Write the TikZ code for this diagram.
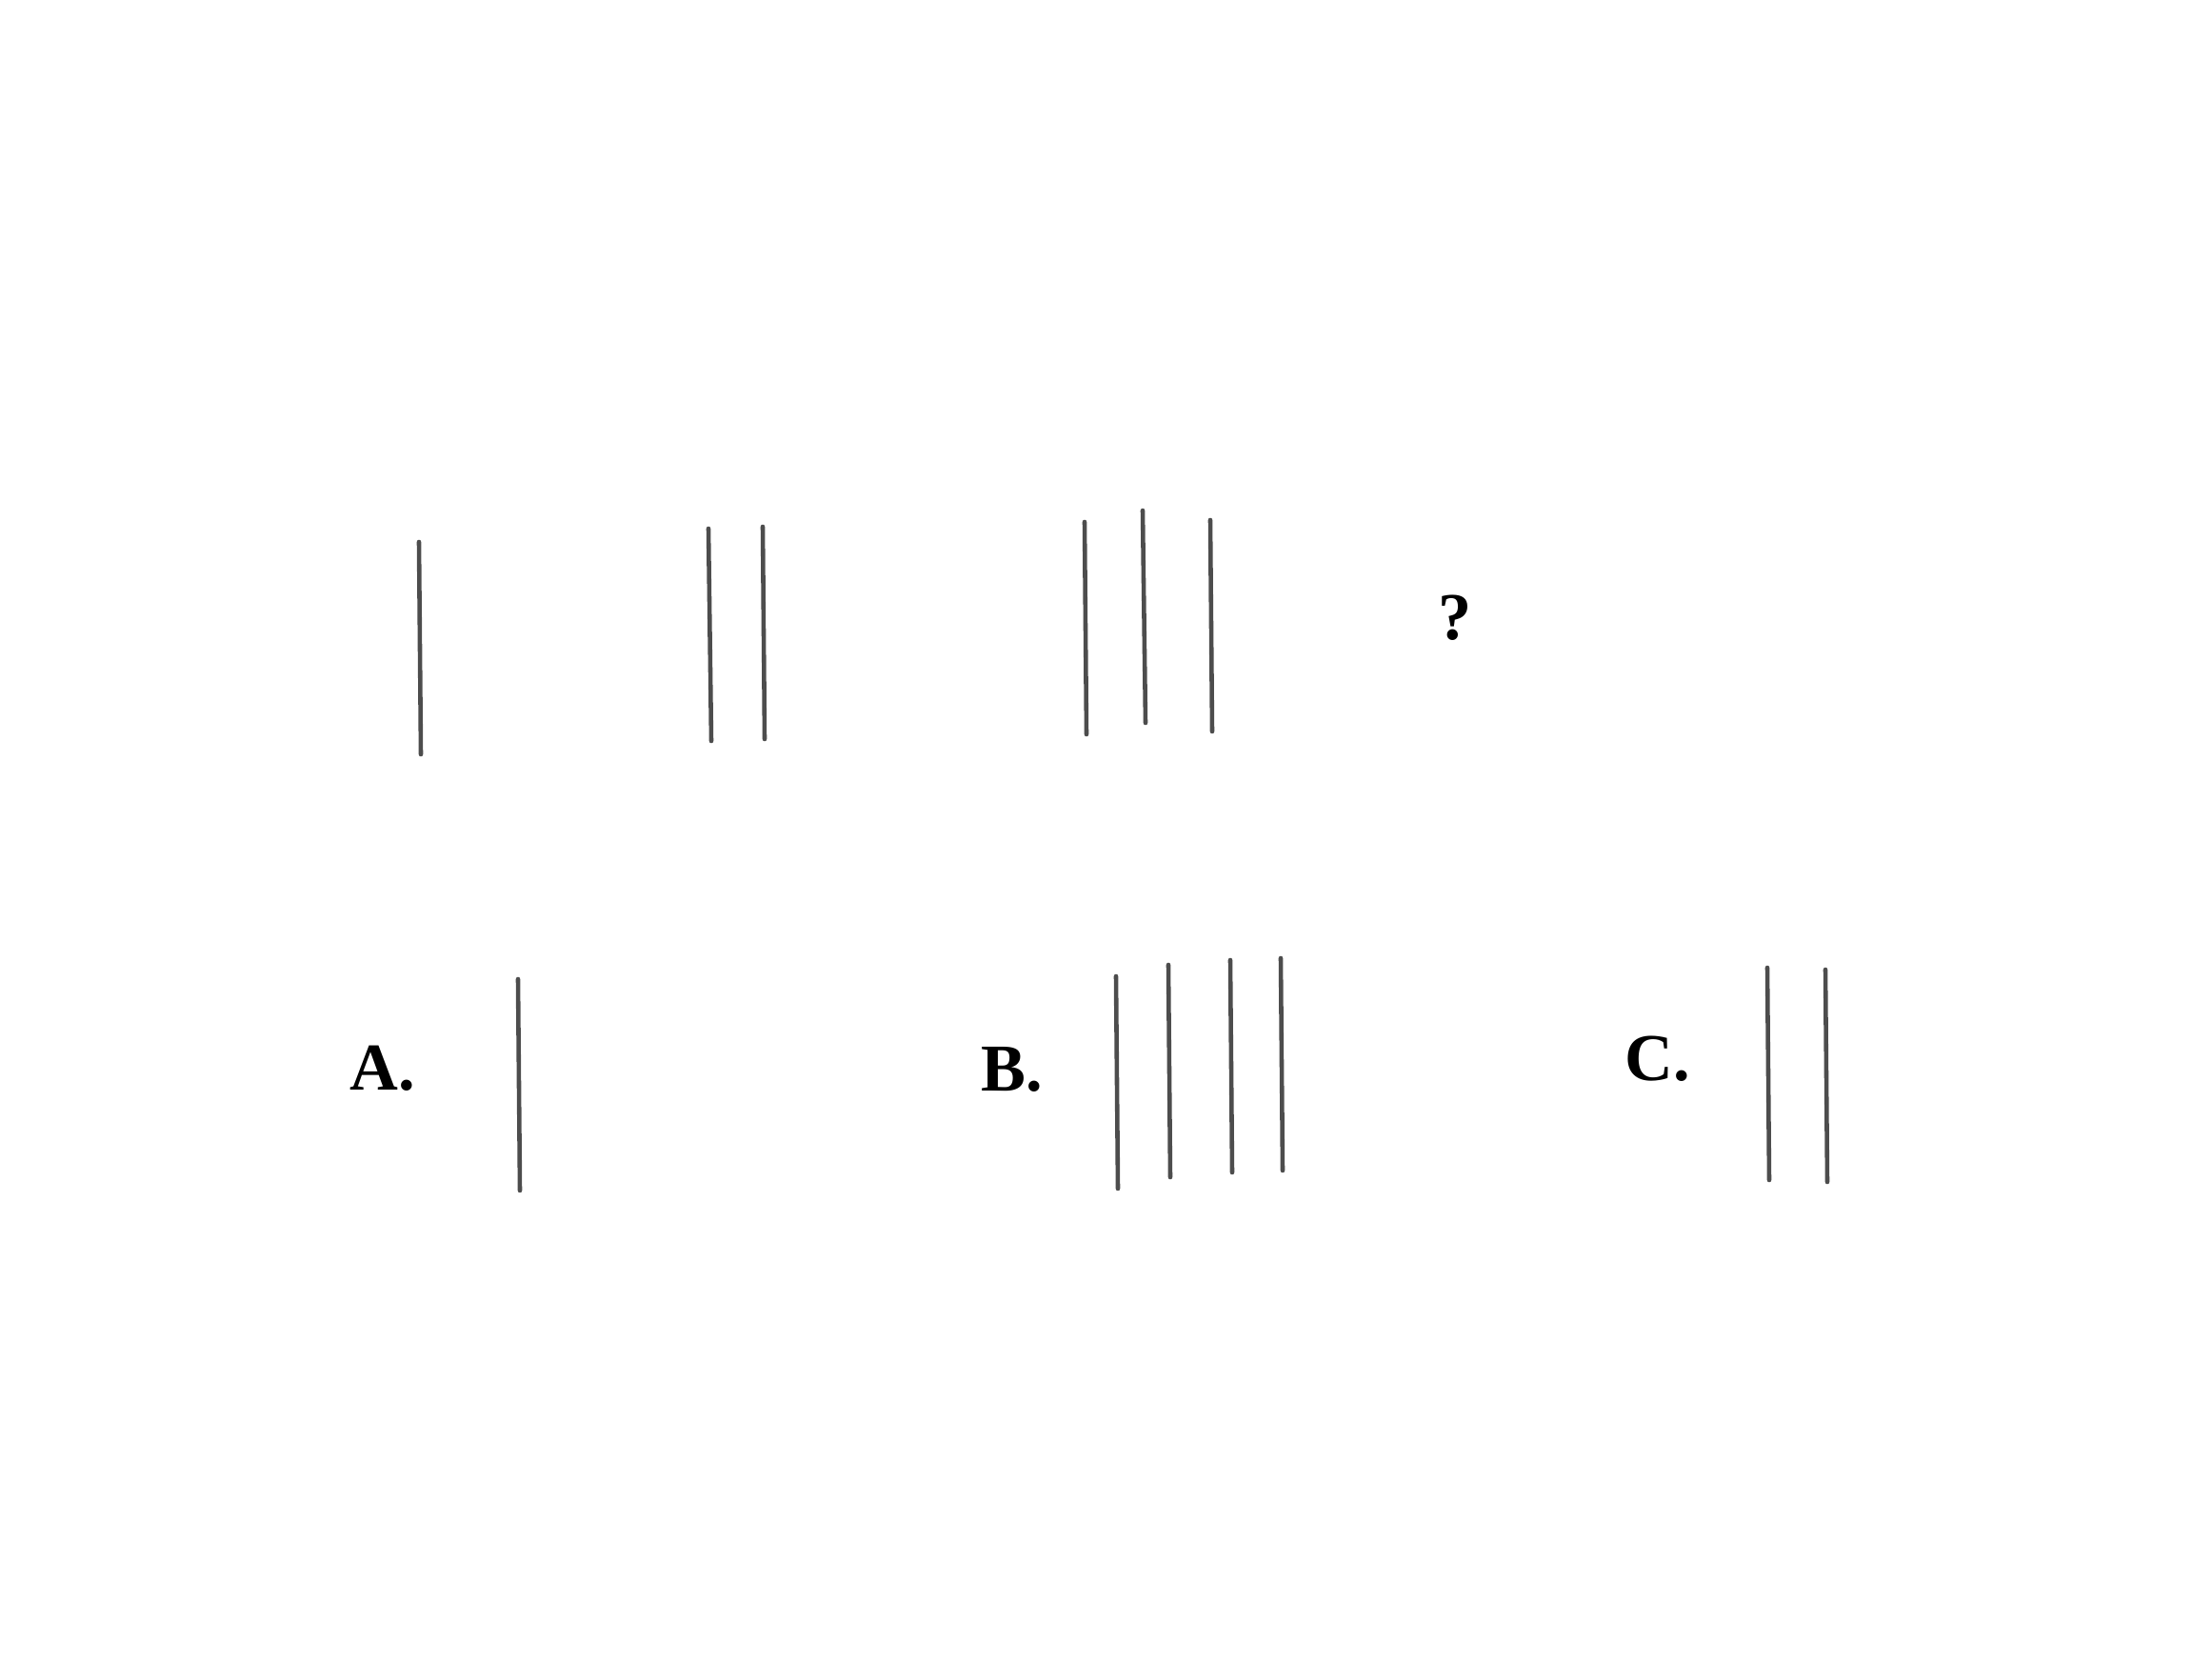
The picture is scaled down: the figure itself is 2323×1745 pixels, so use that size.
\documentclass[tikz,border=0pt]{standalone}
\usepackage{fontspec}
\setmainfont{Liberation Serif}
\usetikzlibrary{positioning}
\definecolor{barGray}{HTML}{4D4D4D}

\begin{document}
\begin{tikzpicture}[
    x=0.01cm, y=-0.01cm,
    bar/.style={draw=barGray, line width=1.3pt, line cap=round},
    lbl/.style={font=\fontsize{20}{24}\selectfont\bfseries, inner sep=0pt}
]
\useasboundingbox (0,0) rectangle (2323,1745);

%–––– SEQUENCE –––––––––––––––––––––––––––––––––––––
\foreach \xa/\ya/\xb/\yb in {440/569/442/792,
                             744/555/747/778, 801/553/803/776,
                             1139/548/1141/771, 1200/536/1203/759, 1271/546/1273/768}
  \draw[bar] (\xa,\ya) -- (\xb,\yb);
\node (qmark) [lbl] at (1528,649) {?};

%–––– OPTIONS ––––––––––––––––––––––––––––––––––––––
\node (optA) [lbl] at (402,1122) {A.};
\node (optB) [lbl] at (1063,1123) {B.};
\node (optC) [lbl] at (1741,1112) {C.};

\foreach \xa/\ya/\xb/\yb in {544/1028/546/1250,
                             1172/1025/1174/1248, 1227/1013/1229/1236,
                             1292/1008/1294/1231, 1345/1006/1347/1229,
                             1856/1016/1858/1239, 1917/1018/1919/1241}
  \draw[bar] (\xa,\ya) -- (\xb,\yb);
\end{tikzpicture}
\end{document}
